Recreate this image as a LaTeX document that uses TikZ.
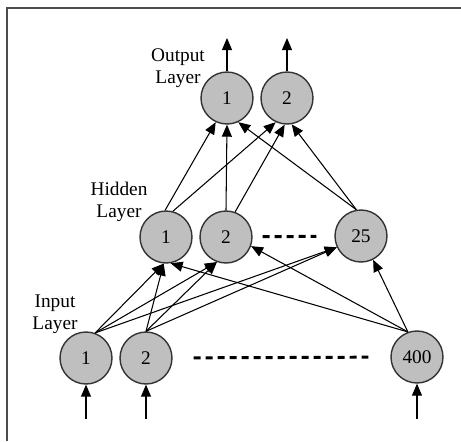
\documentclass[tikz,border=0pt]{standalone}
\usepackage{fontspec}
\setmainfont{Liberation Serif}
\usepackage{tikz}
\usetikzlibrary{arrows.meta}

\begin{document}
\begin{tikzpicture}[x=0.02cm,y=-0.02cm,>={Triangle[length=2.4mm,width=2mm]},
  neuron/.style={circle,draw=black!80,line width=0.8pt,fill=black!25,
                 minimum size=1.04cm,inner sep=0pt,font=\fontsize{11}{13}\selectfont},
  lbl/.style={align=center,font=\fontsize{11}{12.5}\selectfont},
  edge/.style={->,line width=0.6pt},
  gap/.style={line width=1.7pt,dash pattern=on 0.14cm off 0.1cm}]
\useasboundingbox (0,0) rectangle (461,441);
% frame
\draw[black!70,line width=0.6pt] (461,8) -- (7,8) -- (7,441);
% input layer
\node[neuron] (i1) at (86,358) {1};
\node[neuron] (i2) at (146,358) {2};
\node[neuron] (i400) at (417,357) {400};
% hidden layer
\node[neuron] (h1) at (166,237) {1};
\node[neuron] (h2) at (226,237) {2};
\node[neuron] (h25) at (361,236) {25};
% output layer
\node[neuron] (o1) at (227,98) {1};
\node[neuron] (o2) at (287,98) {2};
% labels
\node[lbl] (inlbl) at (55,314) {Input\\Layer};
\node[lbl] (hidlbl) at (119,202) {Hidden\\Layer};
\node[lbl] (outlbl) at (178,68) {Output\\Layer};
% inputs and outputs
\coordinate (x1) at (86,419);
\coordinate (x2) at (146,419);
\coordinate (x400) at (417,419);
\coordinate (y1) at (227,38);
\coordinate (y2) at (287,38);
\foreach \u/\v in {x1/i1,x2/i2,x400/i400}
  \draw[edge] (\u) -- (\v);
\draw[edge] (o1) -- (y1);
\draw[edge] (o2) -- (y2);
% input -> hidden
\foreach \u/\a/\v/\b in {i1/70/h1/265,i1/70/h2/250,i1/70/h25/205,
                         i2/90/h1/265,i2/90/h2/250,i2/90/h25/205,
                         i400/110/h1/280,i400/110/h2/340,i400/110/h25/297}
  \draw[edge] (\u.\a) -- (\v.\b);
% hidden -> output
\foreach \u/\a/\v/\b in {h1/92/o1/245,h1/75/o2/245,
                         h2/90/o1/270,h2/70/o2/265,
                         h25/100/o1/295,h25/100/o2/280}
  \draw[edge] (\u.\a) -- (\v.\b);
% dashes
\draw[gap,shorten <=0.2cm,shorten >=0.36cm] (h2) -- (h25);
\draw[gap,shorten <=0.42cm,shorten >=0.44cm] (i2) -- (i400);
\end{tikzpicture}
\end{document}
